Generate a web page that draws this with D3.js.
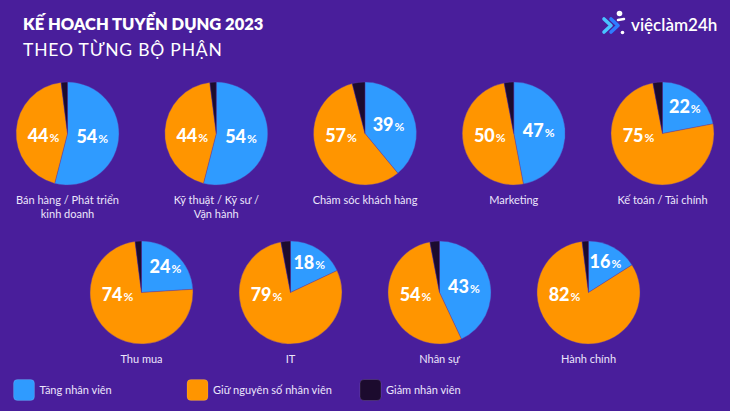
<!DOCTYPE html>
<html>
<head>
<meta charset="utf-8">
<script src="https://cdn.jsdelivr.net/npm/d3@7"></script>
<style>
  html, body { margin: 0; padding: 0; background: #491e9b; }
  svg { display: block; }
</style>
</head>
<body>
<svg id="chart" width="730" height="411"></svg>
<script>
// ---- DATA ----
const categories = [
  "Bán hàng / Phát triển\nkinh doanh",
  "Kỹ thuật / Kỹ sư /\nVận hành",
  "Chăm sóc khách hàng",
  "Marketing",
  "Kế toán / Tài chính",
  "Thu mua",
  "IT",
  "Nhân sự",
  "Hành chính"
];
const seriesNames = ["Tăng nhân viên", "Giữ nguyên số nhân viên", "Giảm nhân viên"];
const increase = [54, 54, 39, 47, 22, 24, 18, 43, 16];
const keep     = [44, 44, 57, 50, 75, 74, 79, 54, 82];
const decrease = [2, 2, 4, 3, 3, 2, 3, 3, 2];
const titleText = "KẾ HOẠCH TUYỂN DỤNG 2023";
const subtitleText = "THEO TỪNG BỘ PHẬN";

// ---- DRAW ----
const W = 730, H = 411;
const svg = d3.select("#chart");
const colors = d3.scaleOrdinal().domain(seriesNames).range(["#2f9bff", "#ff9500", "#1c0b2e"]);
const font = "Lato, 'Noto Sans', sans-serif";

svg.append("rect").attr("width", W).attr("height", H).attr("fill", "#491e9b");

svg.append("text").attr("x", 23).attr("y", 29.5)
  .attr("font-family", font).attr("font-weight", 800).attr("font-size", 16.5)
  .attr("fill", "#fff").text(titleText);
svg.append("text").attr("x", 23).attr("y", 55.5)
  .attr("font-family", font).attr("font-weight", 400).attr("font-size", 17.5)
  .attr("letter-spacing", 0.8)
  .attr("fill", "#fff").text(subtitleText);

// logo
const logo = svg.append("g");
logo.append("path").attr("d", "M604,19 L611,25.5 L604,32").attr("fill", "none")
  .attr("stroke", "#49c3ff").attr("stroke-width", 3.6).attr("stroke-linecap", "round").attr("stroke-linejoin", "round");
logo.append("path").attr("d", "M611,19 L618,25.5 L611,32").attr("fill", "none")
  .attr("stroke", "#2f7dff").attr("stroke-width", 3.6).attr("stroke-linecap", "round").attr("stroke-linejoin", "round");
logo.append("circle").attr("cx", 619.5).attr("cy", 13.5).attr("r", 2.8).attr("fill", "#fff");
logo.append("circle").attr("cx", 622.5).attr("cy", 32.5).attr("r", 1.8).attr("fill", "#fff");
logo.append("path").attr("d", "M618,20 L624,19").attr("stroke", "#fff").attr("stroke-width", 2.5).attr("stroke-linecap", "round");
logo.append("text").attr("x", 631).attr("y", 30.5)
  .attr("font-family", font).attr("font-weight", 600).attr("font-size", 17)
  .attr("fill", "#fff").text("việclàm24h");

const R = 51.5;
const row1 = d3.scaleLinear().domain([0, 4]).range([67.5, 662.5]);
const row2 = d3.scaleLinear().domain([0, 3]).range([141.5, 588.5]);
const rowY = [133.5, 292.5];

const pie = d3.pie().sort(null).value(d => d.value);
const arc = d3.arc().innerRadius(0).outerRadius(R);

categories.forEach((cat, i) => {
  const cx = i < 5 ? row1(i) : row2(i - 5);
  const cy = i < 5 ? rowY[0] : rowY[1];
  const data = [
    { key: seriesNames[0], value: increase[i] },
    { key: seriesNames[1], value: keep[i] },
    { key: seriesNames[2], value: decrease[i] }
  ];
  const arcs = pie(data);
  const g = svg.append("g").attr("transform", `translate(${cx},${cy})`);
  g.selectAll("path").data(arcs).join("path")
    .attr("d", arc)
    .attr("fill", d => colors(d.data.key))
    .attr("stroke", "#5a3aa8").attr("stroke-width", 0.4);

  // value labels
  arcs.slice(0, 2).forEach((a, k) => {
    let lx, ly;
    if (k === 0) {
      const mid = (a.startAngle + a.endAngle) / 2;
      const rr = a.data.value >= 35 ? 25 : 35;
      lx = rr * Math.sin(mid); ly = -rr * Math.cos(mid);
    } else {
      lx = -24; ly = 2.5;
    }
    const t = g.append("text").attr("x", lx).attr("y", ly + 6.3)
      .attr("text-anchor", "middle").attr("font-family", font).attr("fill", "#fff");
    t.append("tspan").attr("font-weight", 900).attr("font-size", 18).text(a.data.value);
    t.append("tspan").attr("font-weight", 700).attr("font-size", 12).attr("dx", 1).text("%");
  });

  // category label
  const lines = cat.split("\n");
  const lt = svg.append("text").attr("text-anchor", "middle")
    .attr("font-family", font).attr("font-size", 11).attr("fill", "#ece6fb");
  lines.forEach((ln, j) => {
    lt.append("tspan").attr("x", cx).attr("y", cy + 70.5 + j * 13.5).text(ln);
  });
});

// legend
const legendX = [13.5, 187, 360];
seriesNames.forEach((s, i) => {
  svg.append("rect").attr("x", legendX[i]).attr("y", 379.5).attr("width", 21).attr("height", 21)
    .attr("rx", 4).attr("fill", colors(s)).attr("stroke", "rgba(255,255,255,0.15)").attr("stroke-width", 0.8);
  svg.append("text").attr("x", legendX[i] + 26).attr("y", 394)
    .attr("font-family", font).attr("font-size", 11).attr("fill", "#ece6fb").text(s);
});
</script>
</body>
</html>
